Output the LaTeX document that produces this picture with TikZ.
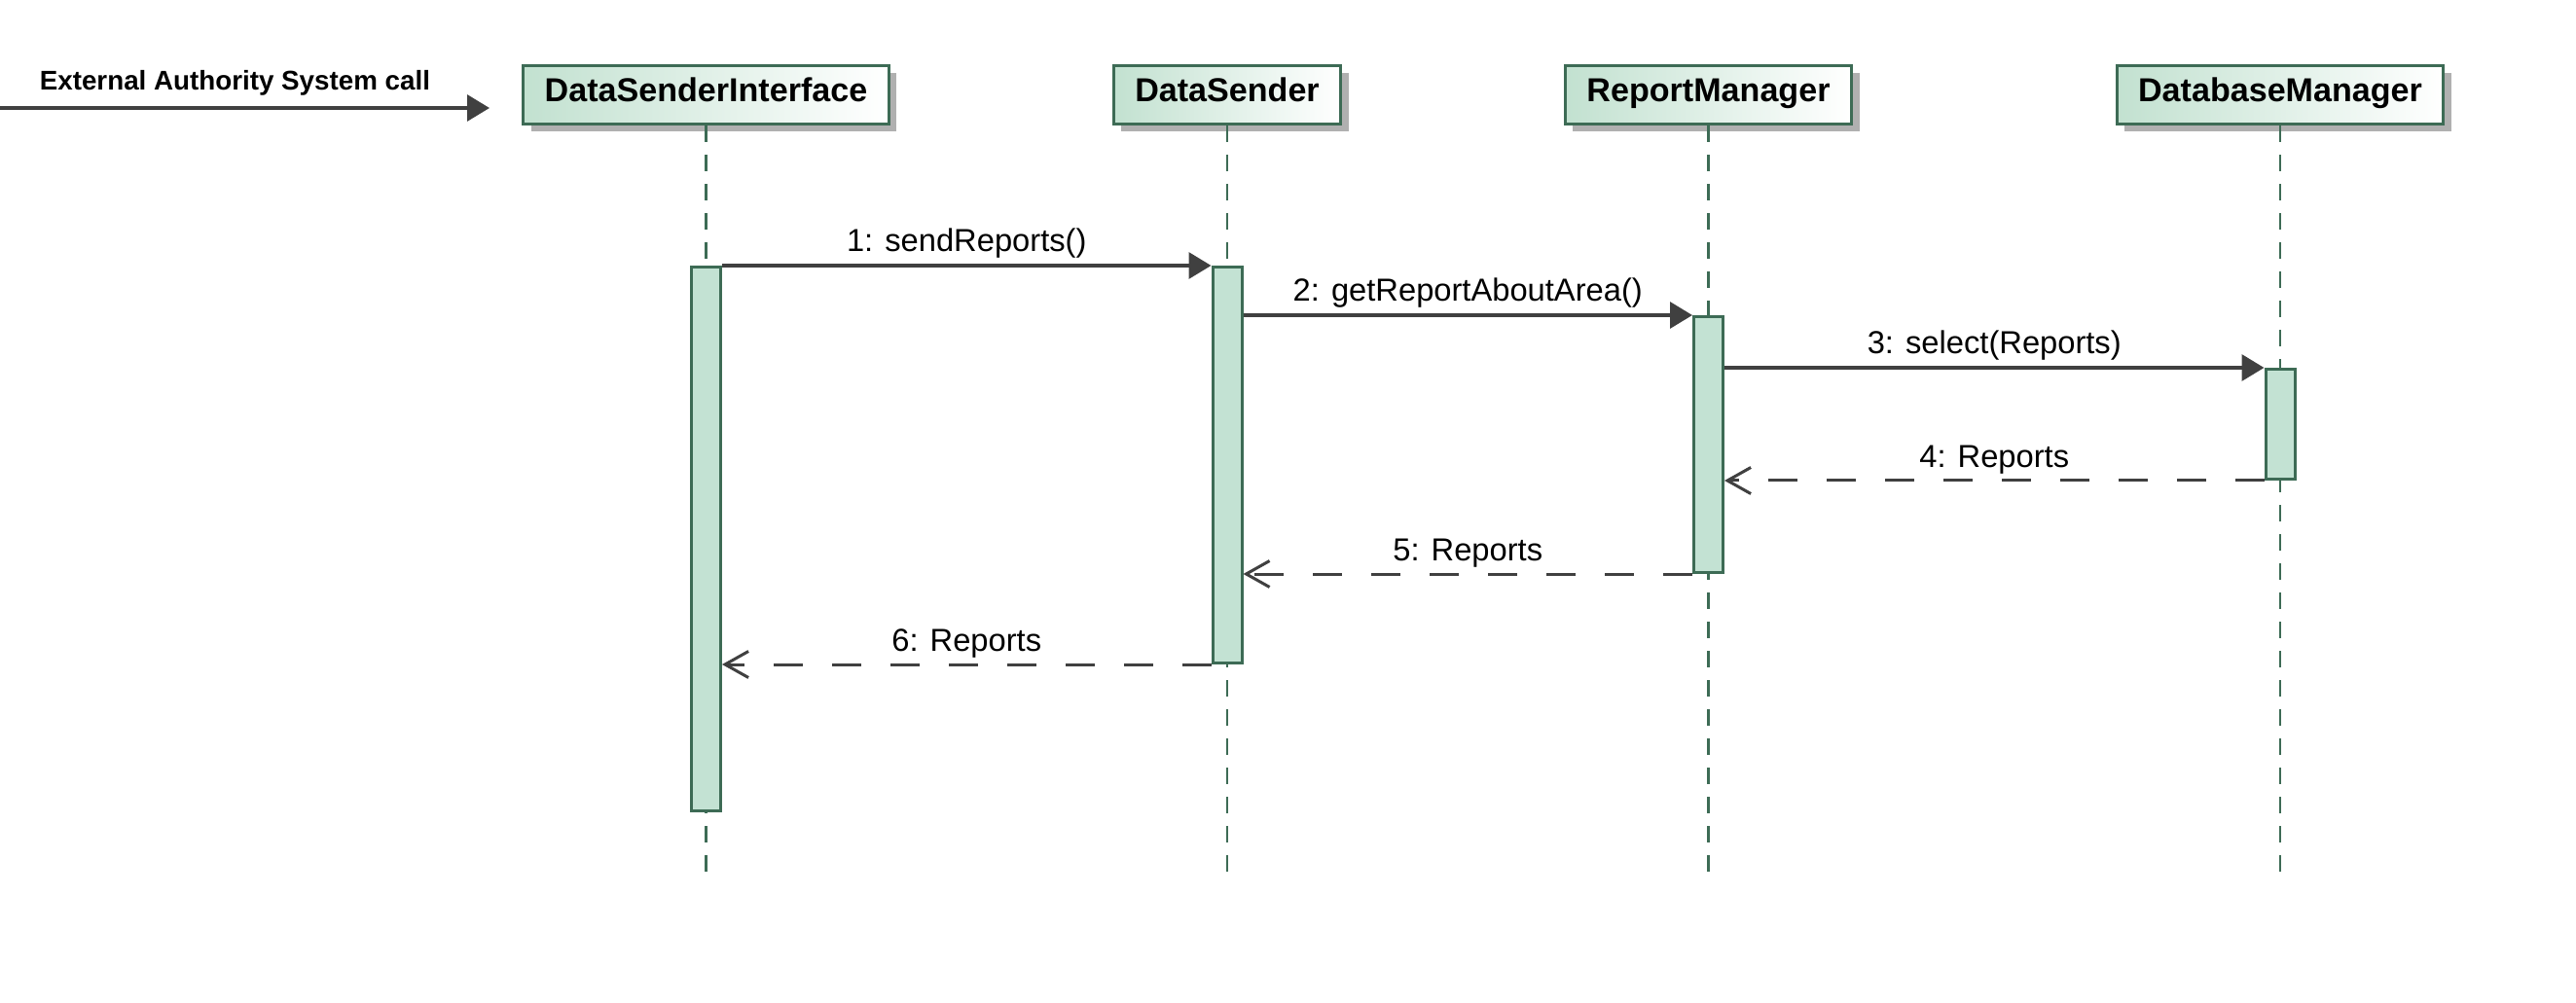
\documentclass[tikz,border=0pt]{standalone}
\usepackage{fontspec}
\setmainfont{Liberation Sans}
\usetikzlibrary{arrows.meta,shadows}
\definecolor{headgreen}{RGB}{194,225,208}
\definecolor{actgreen}{RGB}{195,226,211}
\definecolor{linegreen}{RGB}{61,107,85}
\definecolor{msggray}{RGB}{64,64,64}
\definecolor{shadowgray}{RGB}{176,176,176}
\tikzset{
  head/.style={draw=linegreen, line width=0.03cm, left color=headgreen, right color=white,
    inner ysep=0pt, text height=0.375cm, text depth=0.225cm, inner xsep=0.22cm,
    font=\fontsize{9.7}{11.6}\selectfont\bfseries,
    drop shadow={shadow xshift=0.08cm, shadow yshift=-0.08cm, fill=shadowgray, opacity=1}},
  lifeline/.style={draw=linegreen, line width=0.025cm, dash pattern=on 0.17cm off 0.13cm},
  act/.style={draw=linegreen, fill=actgreen, line width=0.03cm, minimum width=0.3cm,
    inner sep=0pt, anchor=north},
  msg/.style={draw=msggray, line width=0.033cm, -{Triangle[length=0.23cm,width=0.27cm]}},
  reply/.style={draw=msggray, line width=0.03cm, dash pattern=on 0.3cm off 0.3cm,
    -{Straight Barb[length=0.24cm,width=0.27cm]}},
  lbl/.style={anchor=base, yshift=0.14cm, font=\fontsize{9.3}{11}\selectfont}
}
\begin{document}
\begin{tikzpicture}
  \useasboundingbox (0,0) rectangle (26.47,-10.31);

  \node[head] (dsi) at (7.255,-0.975) {DataSenderInterface};
  \node[head] (ds)  at (12.61,-0.975) {DataSender};
  \node[head] (rm)  at (17.555,-0.975) {ReportManager};
  \node[head] (dbm) at (23.43,-0.975) {DatabaseManager};

  \coordinate (bottom) at (0,-8.97);
  \coordinate (ext) at (0,-1.11);
  \coordinate (call) at (5.03,-1.11);

  \draw[lifeline] (dsi.south) -- (dsi |- bottom);
  \draw[lifeline] (ds.south)  -- (ds |- bottom);
  \draw[lifeline] (rm.south)  -- (rm |- bottom);
  \draw[lifeline] (dbm.south) -- (dbm |- bottom);

  \node[act, minimum height=5.59cm] (dsiact) at (dsi |- 0,-2.73) {};
  \node[act, minimum height=4.07cm] (dsact)  at (ds |- 0,-2.73) {};
  \node[act, minimum height=2.63cm] (rmact)  at (rm |- 0,-3.24) {};
  \node[act, minimum height=1.13cm] (dbmact) at (dbm |- 0,-3.78) {};

  \draw[msg] (ext) to node[lbl, pos=0.48, yshift=0.04cm, font=\fontsize{7.9}{9}\selectfont\bfseries]
    {External Authority System call} (call);
  \draw[msg] (dsiact.north east) to node[lbl] {1: sendReports()} (dsact.north west);
  \draw[msg] (dsact.east |- rmact.north) to node[lbl] {2: getReportAboutArea()} (rmact.north west);
  \draw[msg] (rmact.east |- dbmact.north) to node[lbl] {3: select(Reports)} (dbmact.north west);
  \draw[reply] (dbmact.south west) to node[lbl] {4: Reports} (rmact.east |- dbmact.south);
  \draw[reply] (rmact.south west) to node[lbl] {5: Reports} (dsact.east |- rmact.south);
  \draw[reply] (dsact.south west) to node[lbl] {6: Reports} (dsiact.east |- dsact.south);
\end{tikzpicture}
\end{document}
